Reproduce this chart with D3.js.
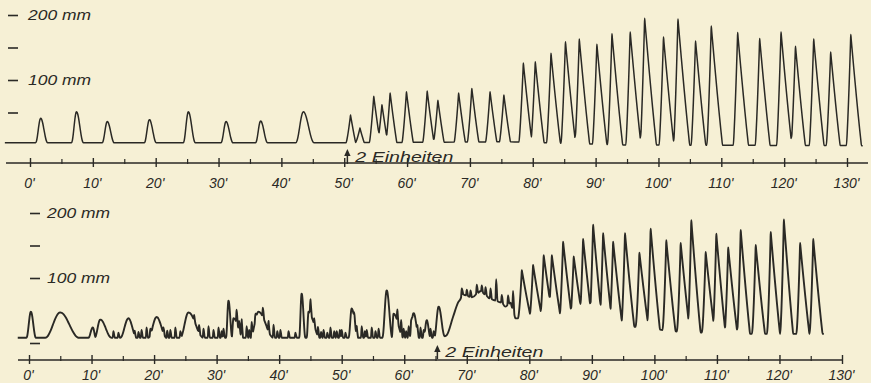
<!DOCTYPE html>
<html><head><meta charset="utf-8">
<script src="https://cdn.jsdelivr.net/npm/d3@7"></script>
<style>
html,body{margin:0;padding:0;background:#f6f0d5;}
svg{display:block;}
text{font-family:"Liberation Sans",Arial,sans-serif;font-style:italic;fill:#2a2925;}
</style></head><body>
<svg id="c" width="871" height="383"></svg>
<script>
// ---------------- data ----------------
const minuteTicks = [0,10,20,30,40,50,60,70,80,90,100,110,120,130];
const minuteMinor = [5,15,25,35,45,55,65,75,85,95,105,115,125];
const topMmMarks = [200,150,100,50];
const bottomMmMarks = [200,150,100,0];
const mmLabelValues = [200,100];
const doseLabel = "2 Einheiten";
const doseTime = [50.5, 65.3];           // top, bottom (minutes)

// upper record: contraction peaks (minutes, mm)
const topPeakTime = [1.7,7.4,12.3,19.0,25.2,31.2,36.7,43.5,51.0,52.5,54.7,56.0,57.3,59.9,63.2,64.9,68.2,70.3,73.2,75.4,
  78.5,80.4,82.9,85.2,87.4,90.2,92.6,95.5,97.8,100.8,103.1,105.9,108.4,112.6,116.1,119.5,121.8,124.7,127.4,130.6];
const topPeakMM = [41,51,36,39,51,36,37,51,46,26,75,62,80,82,83,69,80,87,82,77,
  126,128,141,159,163,155,171,174,195,166,194,160,183,173,164,174,152,163,143,170];
const topBaseTime = [-4,50,76,95,132.5];
const topBaseMM = [3.5,3.5,5,0,-1];

// lower record: broad waves before / around the dose (minutes, mm, rise, fall in minutes)
const bottomBumpTime = [0.3,5.0,10.2,11.4,15.9,20.4,25.5,31.9,32.7,36.7,43.6,44.7,51.6,57.2,58.3,61.5,63.6,65.5];
const bottomBumpMM   = [48,47,24,36,38,40,47,65,38,48,76,48,53,81,45,46,35,56];
const bottomBumpRise = [0.7,2.4,0.7,0.9,1.3,1.3,1.3,0.4,0.3,1.3,0.4,0.3,0.5,0.7,0.3,0.7,0.5,0.7];
const bottomBumpFall = [0.8,3.0,0.5,1.8,1.3,1.6,2.4,0.6,1.6,2.4,0.6,1.8,1.0,0.9,1.6,0.9,0.6,1.0];
// lower record: large contractions after the dose
const bottomPeakTime = [78.8,80.6,82.3,83.6,85.4,87.1,88.6,90.2,91.8,93.4,95.3,97.6,99.4,101.9,104.2,105.9,108.2,109.9,111.8,113.8,116.2,118.6,120.7,123.3,125.4];
const bottomPeakMM   = [112,120,135,135,156,133,160,182,169,156,169,139,176,158,154,189,140,168,147,174,151,171,190,154,160];
// lower record: small fast spikes riding on the trace (minutes, mm above trace)
const bottomSpikeTime = [13.5,14.3,16.9,17.5,18.0,18.8,19.4,21.5,22.1,22.6,23.4,24.2,26.4,27.2,27.9,28.7,29.5,30.3,30.8,31.1,
  33.2,33.6,34.0,34.8,35.2,35.6,36.2,37.4,38.3,39.1,39.7,40.2,41.5,42.6,
  45.0,45.6,46.2,46.7,47.1,47.7,48.2,48.8,49.2,49.7,50.0,50.6,52.0,52.4,53.2,53.7,54.0,54.8,55.4,55.9,
  58.9,59.5,59.9,60.3,60.7,61.1,62.1,62.6,63.1,64.2,64.7,
  69.2,70.0,70.6,71.6,72.4,73.0,73.8,74.7,75.6,76.6,77.4];
const bottomSpikeMM = [10,8,7,9,12,16,10,9,11,12,16,10,8,12,14,18,12,16,10,14,
  20,14,26,18,12,22,10,14,16,20,10,12,10,8,
  22,10,14,9,12,8,16,10,10,12,12,8,10,14,18,10,12,16,10,14,
  18,22,14,10,18,12,10,16,12,14,10,
  12,9,10,14,10,12,16,33,12,14,30];
// lower record: level of the trace between contractions
const bottomBaseTime = [-1.8,66.1,66.8,67.8,68.6,69.4,70.8,72.2,73.8,75.6,76.2,77.0,77.8,88,93,98,103,112,127.1];
const bottomBaseMM   = [8,8,12,40,62,75,70,80,68,62,56,62,38,34,28,24,18,14,14];

// ---------------- drawing ----------------
const ink = "#2a2925";
const svg = d3.select("#c");
svg.append("rect").attr("width",871).attr("height",383).attr("fill","#f6f0d5");

const xTop = d3.scaleLinear().domain([0,130]).range([30,847]);
const yTop = d3.scaleLinear().domain([0,200]).range([145,15]);
const xBot = d3.scaleLinear().domain([0,130]).range([29,842]);
const yBot = d3.scaleLinear().domain([0,200]).range([343,213]);

function buildTrace(bumps, spikes, baseTime, baseMM, start, end) {
  const base = d3.scaleLinear().domain(baseTime).range(baseMM).clamp(true);
  const RISE = [1,.82,.65,.5,.36,.24,.14,.06,0], FALL = [.04,.1,.18,.28,.4,.53,.67,.82,.92,1];
  let ts = [start, end, ...baseTime];
  bumps.forEach(b => { RISE.forEach(u => ts.push(b.t - u*b.r)); FALL.forEach(u => ts.push(b.t + u*b.f)); });
  spikes.forEach(s => { ts.push(s.t - 0.12, s.t, s.t + 0.22); });
  ts = Array.from(new Set(ts.map(t => +t.toFixed(4)))).filter(t => t >= start && t <= end).sort((a,b) => a-b);
  function shape(b, t) {
    const dt = t - b.t;
    if (dt < 0) { const u = -dt / b.r; if (u >= 1) return 0;
      return b.kind === "bell" ? 0.5*(1+Math.cos(Math.PI*u)) : Math.pow(1-u, b.pr); }
    const u = dt / b.f; if (u >= 1) return 0;
    return b.kind === "bell" ? 0.5*(1+Math.cos(Math.PI*u)) : Math.pow(1-u, b.pf);
  }
  return ts.map(t => {
    let m = 0;
    bumps.forEach(b => { const a = b.h - base(b.t); m = Math.max(m, a*shape(b,t)); });
    let s = 0;
    spikes.forEach(p => { const dt = t - p.t;
      if (dt < 0 && dt > -0.12) s += p.a*(1 + dt/0.12);
      else if (dt >= 0 && dt < 0.22) s += p.a*(1 - dt/0.22); });
    return [t, base(t) + m + s];
  });
}

// upper trace
const topBumps = topPeakTime.map((t,i) => {
  const h = topPeakMM[i];
  return t < 50 ? {t, h, r: (t > 40 ? 1.2 : 0.8), f: (t > 40 ? 1.7 : 1.1), kind: "bell"}
                : {t, h, r: 0.7, f: 0.5 + h/140, pr: 1.3, pf: 1.1, kind: "spike"};
});
const topData = buildTrace(topBumps, [], topBaseTime, topBaseMM, -4, 132.5);

// lower trace
const botBumps = bottomBumpTime.map((t,i) => ({t, h: bottomBumpMM[i], r: bottomBumpRise[i], f: bottomBumpFall[i], kind: "bell"}))
  .concat(bottomPeakTime.map((t,i) => ({t, h: bottomPeakMM[i], r: 0.6, f: 1.5, pr: 1.5, pf: 1.1, kind: "spike"})));
const botSpikes = bottomSpikeTime.map((t,i) => ({t, a: bottomSpikeMM[i]}));
const botData = buildTrace(botBumps, botSpikes, bottomBaseTime, bottomBaseMM, -1.8, 127.1);

svg.append("path").datum(topData)
  .attr("d", d3.line().x(d => xTop(d[0])).y(d => yTop(d[1])).curve(d3.curveMonotoneX))
  .attr("fill","none").attr("stroke",ink).attr("stroke-width",1.5).attr("stroke-linejoin","round");
svg.append("path").datum(botData)
  .attr("d", d3.line().x(d => xBot(d[0])).y(d => yBot(d[1])).curve(d3.curveMonotoneX))
  .attr("fill","none").attr("stroke",ink).attr("stroke-width",1.9).attr("stroke-linejoin","round");

// time axes
function timeAxis(x, y0, lineFrom, lineTo, labelY) {
  svg.append("line").attr("x1", lineFrom).attr("x2", lineTo).attr("y1", y0).attr("y2", y0)
    .attr("stroke", ink).attr("stroke-width", 1.4);
  const gMaj = svg.append("g").attr("transform", `translate(0,${y0})`)
    .call(d3.axisBottom(x).tickValues(minuteTicks).tickFormat(d => d + "'").tickSize(4));
  gMaj.select(".domain").remove();
  gMaj.selectAll(".tick line").attr("y1",-5).attr("y2",4).attr("stroke",ink).attr("stroke-width",1.4);
  gMaj.selectAll(".tick text").attr("y", labelY).attr("x", -1)
    .style("font-size","14px").style("font-style","italic").attr("fill", ink).attr("font-family", null);
  const gMin = svg.append("g").attr("transform", `translate(0,${y0})`)
    .call(d3.axisBottom(x).tickValues(minuteMinor).tickFormat("").tickSize(2));
  gMin.select(".domain").remove();
  gMin.selectAll(".tick line").attr("y1",-4).attr("y2",1).attr("stroke",ink).attr("stroke-width",1.2);
}
timeAxis(xTop, 163, 6, 868, 15);
timeAxis(xBot, 360, 18, 842, 10);

// mm scales
function mmAxis(y, marks, x0, pad) {
  const g = svg.append("g").attr("transform", `translate(${x0},0)`)
    .call(d3.axisRight(y).tickValues(marks).tickSize(10).tickPadding(pad)
      .tickFormat(d => mmLabelValues.includes(d) ? d + " mm" : ""));
  g.select(".domain").remove();
  g.selectAll(".tick line").attr("stroke", ink).attr("stroke-width", 1.6);
  g.selectAll(".tick text").style("font-size","14px").style("font-style","italic")
    .attr("fill", ink).attr("font-family", null)
    .attr("textLength", d => mmLabelValues.includes(d) ? 63 : null).attr("lengthAdjust","spacingAndGlyphs");
}
mmAxis(yTop, topMmMarks, 8, 10);
mmAxis(yBot, bottomMmMarks, 30, 7);

// dose annotations
function dose(x, t, yTip, yTail, textY) {
  const xp = x(t);
  svg.append("line").attr("x1", xp).attr("x2", xp).attr("y1", yTip + 4).attr("y2", yTail)
    .attr("stroke", ink).attr("stroke-width", 1.5);
  svg.append("path").attr("d", `M${xp},${yTip} L${xp-3.2},${yTip+7} L${xp+3.2},${yTip+7} Z`).attr("fill", ink);
  svg.append("text").attr("x", xp + 8).attr("y", textY).text(doseLabel)
    .style("font-size","15px").attr("textLength", 98).attr("lengthAdjust","spacingAndGlyphs");
}
dose(xTop, doseTime[0], 149, 164, 162);
dose(xBot, doseTime[1], 345, 359, 357);
</script>
</body></html>
